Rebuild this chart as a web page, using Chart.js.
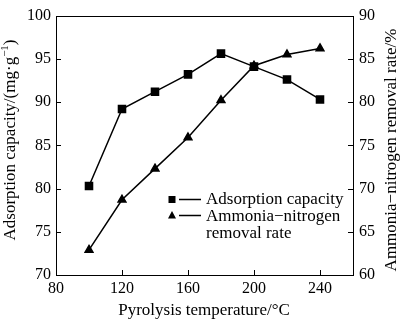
<!DOCTYPE html>
<html>
<head>
<meta charset="utf-8">
<script src="https://cdn.jsdelivr.net/npm/chart.js@4"></script>
<style>
  html, body { margin: 0; padding: 0; background: #fff; }
  #wrap { width: 400px; height: 322px; }
</style>
</head>
<body>
<div id="wrap"><canvas id="chart"></canvas></div>
<script>
// data
const temps = [100, 120, 140, 160, 180, 200, 220, 240];
const adsorption = [80.3, 89.2, 91.2, 93.2, 95.6, 94.1, 92.6, 90.3];
const removal = [62.9, 68.7, 72.3, 75.9, 80.2, 84.2, 85.5, 86.2];
const xTicks = [80, 120, 160, 200, 240];
const leftTicks = [70, 75, 80, 85, 90, 95, 100];
const rightTicks = [60, 65, 70, 75, 80, 85, 90];

const FONT = '"Liberation Serif", "DejaVu Serif", serif';

// frame, inward ticks, axis titles and the in-plot legend
const decor = {
  id: 'decor',
  afterDraw(chart) {
    const ctx = chart.ctx;
    const a = chart.chartArea;
    const sx = chart.scales.x, sy = chart.scales.y, sy2 = chart.scales.y2;
    ctx.save();
    ctx.strokeStyle = '#000';
    ctx.fillStyle = '#000';
    ctx.lineWidth = 1;
    ctx.strokeRect(Math.round(a.left) + 0.5, Math.round(a.top) + 0.5,
      Math.round(a.right - a.left), Math.round(a.bottom - a.top));

    ctx.beginPath();
    xTicks.forEach(v => {
      const p = Math.round(sx.getPixelForValue(v)) + 0.5;
      ctx.moveTo(p, a.bottom); ctx.lineTo(p, a.bottom - 5);
    });
    leftTicks.forEach(v => {
      const p = Math.round(sy.getPixelForValue(v)) + 0.5;
      ctx.moveTo(a.left, p); ctx.lineTo(a.left + 5, p);
    });
    rightTicks.forEach(v => {
      const p = Math.round(sy2.getPixelForValue(v)) + 0.5;
      ctx.moveTo(a.right, p); ctx.lineTo(a.right - 5, p);
    });
    ctx.stroke();

    // x title
    ctx.font = '17px ' + FONT;
    ctx.textAlign = 'center';
    ctx.textBaseline = 'middle';
    ctx.fillText('Pyrolysis temperature/\u00b0C', 204, 311);

    // left title with superscript
    ctx.save();
    ctx.translate(11, 140);
    ctx.rotate(-Math.PI / 2);
    const t1 = 'Adsorption capacity/(mg\u00b7g', t2 = '\u22121', t3 = ')';
    ctx.font = '17px ' + FONT;
    const w1 = ctx.measureText(t1).width, w3 = ctx.measureText(t3).width;
    ctx.font = '11px ' + FONT;
    const w2 = ctx.measureText(t2).width;
    let x0 = -(w1 + w2 + w3) / 2;
    ctx.textAlign = 'left';
    ctx.font = '17px ' + FONT;
    ctx.fillText(t1, x0, 0);
    ctx.font = '11px ' + FONT;
    ctx.fillText(t2, x0 + w1, -6);
    ctx.font = '17px ' + FONT;
    ctx.fillText(t3, x0 + w1 + w2, 0);
    ctx.restore();

    // right title
    ctx.save();
    ctx.translate(392, 150);
    ctx.rotate(-Math.PI / 2);
    ctx.font = '17px ' + FONT;
    ctx.textAlign = 'center';
    ctx.fillText('Ammonia\u2212nitrogen removal rate/%', 0, 0);
    ctx.restore();

    // legend
    ctx.lineWidth = 1.5;
    ctx.beginPath();
    ctx.moveTo(179, 199.5); ctx.lineTo(201, 199.5);
    ctx.moveTo(179, 215.5); ctx.lineTo(201, 215.5);
    ctx.stroke();
    ctx.fillRect(168.5, 196, 7, 7);
    ctx.beginPath();
    ctx.moveTo(172, 211); ctx.lineTo(176, 218.5); ctx.lineTo(168, 218.5);
    ctx.closePath(); ctx.fill();
    ctx.font = '17px ' + FONT;
    ctx.textAlign = 'left';
    ctx.fillText('Adsorption capacity', 206, 200);
    ctx.fillText('Ammonia\u2212nitrogen', 206, 217);
    ctx.fillText('removal rate', 206, 234);
    ctx.restore();
  }
};

new Chart(document.getElementById('chart'), {
  type: 'line',
  data: {
    datasets: [{
      label: 'Adsorption capacity',
      data: temps.map((t, i) => ({ x: t, y: adsorption[i] })),
      yAxisID: 'y',
      borderColor: '#000',
      backgroundColor: '#000',
      borderWidth: 1.5,
      pointStyle: 'rect',
      pointRadius: 5,
      tension: 0
    }, {
      label: 'Ammonia-nitrogen removal rate',
      data: temps.map((t, i) => ({ x: t, y: removal[i] })),
      yAxisID: 'y2',
      borderColor: '#000',
      backgroundColor: '#000',
      borderWidth: 1.5,
      pointStyle: 'triangle',
      pointRadius: 4.5,
      tension: 0
    }]
  },
  options: {
    responsive: true,
    maintainAspectRatio: false,
    animation: false,
    layout: { padding: { top: 7, left: 0, right: 0, bottom: 0 } },
    plugins: { legend: { display: false }, tooltip: { enabled: false } },
    scales: {
      x: {
        type: 'linear', min: 80, max: 260,
        afterBuildTicks: s => { s.ticks = xTicks.map(v => ({ value: v })); },
        afterFit: s => { s.height = 47; },
        grid: { display: false, drawTicks: false },
        border: { display: false },
        ticks: { color: '#000', padding: 4, maxRotation: 0, font: { family: FONT, size: 16 } }
      },
      y: {
        position: 'left', min: 70, max: 100,
        afterBuildTicks: s => { s.ticks = leftTicks.map(v => ({ value: v })); },
        afterFit: s => { s.width = 56; },
        grid: { display: false, drawTicks: false },
        border: { display: false },
        ticks: { color: '#000', padding: 5, font: { family: FONT, size: 16 } }
      },
      y2: {
        position: 'right', min: 60, max: 90,
        afterBuildTicks: s => { s.ticks = rightTicks.map(v => ({ value: v })); },
        afterFit: s => { s.width = 47; },
        grid: { display: false, drawTicks: false },
        border: { display: false },
        ticks: { color: '#000', padding: 6, font: { family: FONT, size: 16 } }
      }
    }
  },
  plugins: [decor]
});
</script>
</body>
</html>
